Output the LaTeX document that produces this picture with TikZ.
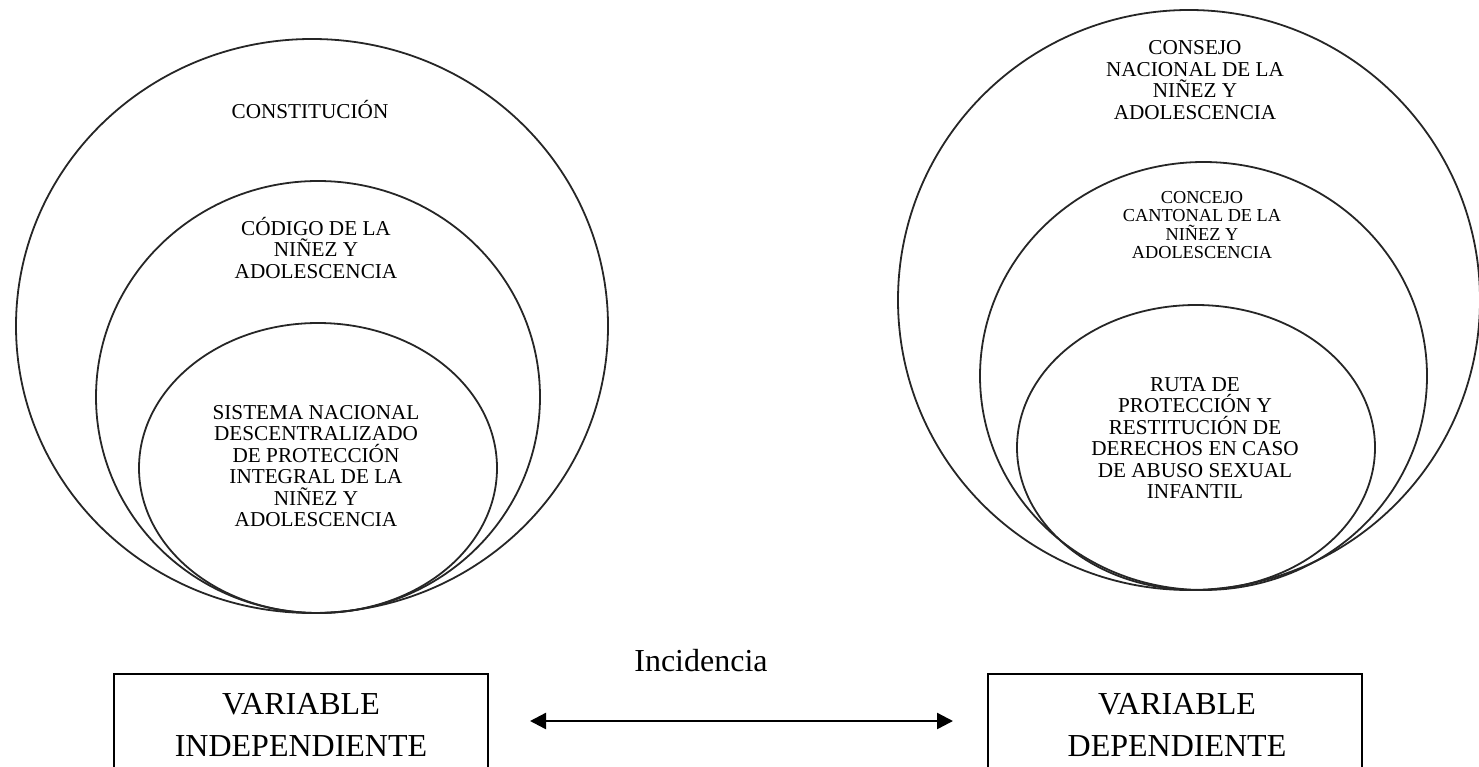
\documentclass[tikz,border=0pt]{standalone}
\usepackage{fontspec}
\setmainfont{Liberation Serif}
\usetikzlibrary{arrows.meta}
\tikzset{
  ring/.style={draw=black!85, line width=1.8pt},
  ringtext/.style={align=center, font=\fontsize{21.2}{21.5}\selectfont, inner sep=0pt},
  smalltext/.style={align=center, font=\fontsize{18.3}{18.3}\selectfont, inner sep=0pt},
  bigtext/.style={align=center, font=\fontsize{32}{42}\selectfont, inner sep=0pt},
  varbox/.style={draw=black, line width=1.8pt},
  link/.style={line width=2.4pt, {Triangle[length=16pt,width=16pt]}-{Triangle[length=16pt,width=16pt]}}
}
\begin{document}
\begin{tikzpicture}[x=1pt,y=-1pt]
\useasboundingbox (0,0) rectangle (1479,767);
\clip (0,0) rectangle (1479,767);
% left circles
\draw[ring] (312,326) ellipse [x radius=296pt, y radius=287pt];
\draw[ring] (318,397) ellipse [x radius=222pt, y radius=216pt];
\draw[ring] (318,468) ellipse [x radius=179pt, y radius=145pt];
\node[ringtext] (constitucion) at (310,110) {CONSTITUCIÓN};
\node[ringtext] (codigo) at (316,248) {CÓDIGO DE LA\\NIÑEZ Y\\ADOLESCENCIA};
\node[ringtext] (sistema) at (316,466) {SISTEMA NACIONAL\\DESCENTRALIZADO\\DE PROTECCIÓN\\INTEGRAL DE LA\\NIÑEZ Y\\ADOLESCENCIA};
% right circles
\draw[ring] (1189,300) ellipse [x radius=291pt, y radius=290pt];
\draw[ring] (1203.5,376) ellipse [x radius=223.5pt, y radius=214pt];
\draw[ring] (1196,447.5) ellipse [x radius=179pt, y radius=142.5pt];
\node[ringtext] (consejo) at (1195,80) {CONSEJO\\NACIONAL DE LA\\NIÑEZ Y\\ADOLESCENCIA};
\node[smalltext] (concejo) at (1202,225) {CONCEJO\\CANTONAL DE LA\\NIÑEZ Y\\ADOLESCENCIA};
\node[ringtext] (ruta) at (1195,438) {RUTA DE\\PROTECCIÓN Y\\RESTITUCIÓN DE\\DERECHOS EN CASO\\DE ABUSO SEXUAL\\INFANTIL};
% boxes
\draw[varbox] (114,800) -- (114,674) -- (488,674) -- (488,800);
\draw[varbox] (988,800) -- (988,674) -- (1362,674) -- (1362,800);
\node[bigtext] (indep) at (301,725) {VARIABLE\\INDEPENDIENTE};
\node[bigtext] (dep) at (1177,725) {VARIABLE\\DEPENDIENTE};
% arrow
\coordinate (aL) at (530,721);
\coordinate (aR) at (953,721);
\draw[link] (aL) -- (aR);
\node[font=\fontsize{32}{38}\selectfont, inner sep=0pt] (incid) at (701,661) {Incidencia};
\end{tikzpicture}
\end{document}
